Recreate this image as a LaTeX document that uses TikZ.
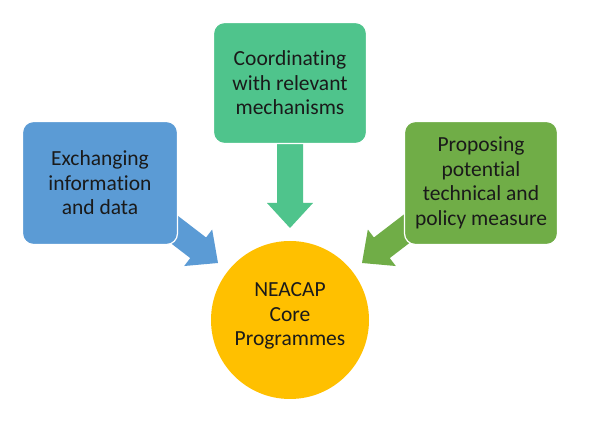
\documentclass[tikz,border=0pt]{standalone}
\usepackage{fontspec}
\setmainfont{Carlito}[Ligatures=NoCommon]
\definecolor{cblue}{HTML}{5B9BD5}
\definecolor{cteal}{HTML}{4FC48C}
\definecolor{cgreen}{HTML}{70AD47}
\definecolor{cgold}{HTML}{FFC000}
\definecolor{ctext}{HTML}{1A1A1A}
\begin{document}
\begin{tikzpicture}[x=1pt,y=1pt,
  box/.style={rounded corners=11pt, draw=white, line width=1.2pt, align=center,
    text=ctext, font=\fontsize{21.5}{24.5}\selectfont, inner sep=0pt},
  blockarrow/.style={line width=0pt}]
\useasboundingbox (0,0) rectangle (590,-427);
\fill[white] (0,0) rectangle (590,-427);
% arrow tips
\coordinate (tl) at (218,-263);
\coordinate (tt) at (290,-228);
\coordinate (tr) at (362,-263);
% block arrows (behind boxes)
\fill[cblue, shift={(tl)}, rotate=-37.5]
  (0,0) -- (-25,23) -- (-25,13) -- (-90,13) -- (-90,-13) -- (-25,-13) -- (-25,-23) -- cycle;
\fill[cteal, shift={(tt)}, rotate=-90]
  (0,0) -- (-25,23) -- (-25,13) -- (-90,13) -- (-90,-13) -- (-25,-13) -- (-25,-23) -- cycle;
\fill[cgreen, shift={(tr)}, rotate=-142.5]
  (0,0) -- (-25,23) -- (-25,13) -- (-90,13) -- (-90,-13) -- (-25,-13) -- (-25,-23) -- cycle;
% boxes
\node[box, fill=cblue, minimum width=155pt, minimum height=123pt] (L) at (100,-183)
  {Exchanging\\information\\and data};
\node[box, fill=cteal, minimum width=153pt, minimum height=121pt] (T) at (290,-83)
  {Coordinating\\with relevant\\mechanisms};
\node[box, fill=cgreen, minimum width=153pt, minimum height=123pt] (R) at (481,-183)
  {Proposing\\potential\\technical and\\policy measure};
% circle
\node[circle, fill=cgold, minimum size=158pt, inner sep=0pt] (C) at (290,-320) {};
\node[align=center, text=ctext, font=\fontsize{21.5}{24.5}\selectfont, inner sep=0pt]
  (Ct) at (290,-316) {NEACAP\\Core\\Programmes};
\end{tikzpicture}
\end{document}
